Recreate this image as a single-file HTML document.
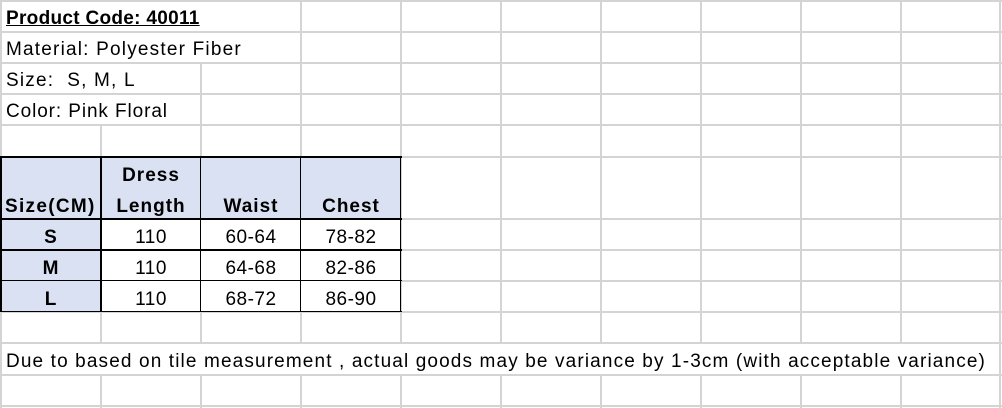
<!DOCTYPE html>
<html><head><meta charset="utf-8"><style>
body{margin:0;width:1002px;height:408px;background:#fff;position:relative;overflow:hidden;font-family:"Liberation Sans",sans-serif;color:#000}
.h,.v{position:absolute;background:#d4d4d4}
.h{height:2px}.v{width:2px}
.b{position:absolute;background:#000}
.f{position:absolute;background:#d9e1f2}
.t{position:absolute;font-size:19px;white-space:nowrap;line-height:20px;letter-spacing:1.2px}
.c{position:absolute;font-size:19px;text-align:center;line-height:20px;width:100px;letter-spacing:0.5px}
.bold{font-weight:bold;letter-spacing:1px}
</style></head><body>
<div class="f" style="left:1px;top:157px;width:400px;height:62px"></div>
<div class="f" style="left:1px;top:219px;width:100px;height:93px"></div>
<div class="h" style="left:0;top:0;width:1002px"></div>
<div class="h" style="left:0;top:31px;width:1002px"></div>
<div class="h" style="left:0;top:62px;width:1002px"></div>
<div class="h" style="left:0;top:93px;width:1002px"></div>
<div class="h" style="left:0;top:124px;width:1002px"></div>
<div class="h" style="left:0;top:156px;width:1002px"></div>
<div class="h" style="left:401px;top:218px;width:601px"></div>
<div class="h" style="left:401px;top:249px;width:601px"></div>
<div class="h" style="left:401px;top:280px;width:601px"></div>
<div class="h" style="left:0;top:311px;width:1002px"></div>
<div class="h" style="left:0;top:342px;width:1002px"></div>
<div class="h" style="left:0;top:374px;width:1002px"></div>
<div class="h" style="left:0;top:405px;width:1002px"></div>
<div class="v" style="left:0;top:0;height:408px"></div>
<div class="v" style="left:999px;top:0;height:408px"></div>
<div class="v" style="left:100px;top:125px;height:32px"></div>
<div class="v" style="left:100px;top:312px;height:31px"></div>
<div class="v" style="left:100px;top:375px;height:33px"></div>
<div class="v" style="left:200px;top:63px;height:94px"></div>
<div class="v" style="left:200px;top:312px;height:31px"></div>
<div class="v" style="left:200px;top:375px;height:33px"></div>
<div class="v" style="left:300px;top:0;height:157px"></div>
<div class="v" style="left:300px;top:312px;height:31px"></div>
<div class="v" style="left:300px;top:375px;height:33px"></div>
<div class="v" style="left:400px;top:0;height:343px"></div>
<div class="v" style="left:400px;top:375px;height:33px"></div>
<div class="v" style="left:500px;top:0;height:343px"></div>
<div class="v" style="left:500px;top:375px;height:33px"></div>
<div class="v" style="left:600px;top:0;height:343px"></div>
<div class="v" style="left:600px;top:375px;height:33px"></div>
<div class="v" style="left:700px;top:0;height:343px"></div>
<div class="v" style="left:700px;top:375px;height:33px"></div>
<div class="v" style="left:800px;top:0;height:343px"></div>
<div class="v" style="left:800px;top:375px;height:33px"></div>
<div class="v" style="left:900px;top:0;height:343px"></div>
<div class="v" style="left:900px;top:375px;height:33px"></div>
<div class="b" style="left:0;top:156px;width:402px;height:2px"></div>
<div class="b" style="left:0;top:218px;width:402px;height:2px"></div>
<div class="b" style="left:0;top:249px;width:402px;height:2px"></div>
<div class="b" style="left:0;top:280px;width:402px;height:1px"></div>
<div class="b" style="left:0;top:311px;width:402px;height:1px"></div>
<div class="b" style="left:0;top:156px;width:2px;height:156px"></div>
<div class="b" style="left:100px;top:156px;width:2px;height:156px"></div>
<div class="b" style="left:200px;top:156px;width:1px;height:156px"></div>
<div class="b" style="left:300px;top:156px;width:1px;height:156px"></div>
<div class="b" style="left:400px;top:156px;width:1px;height:156px"></div>
<div class="t bold" style="left:6px;top:9px;text-decoration:underline;letter-spacing:0.3px">Product Code: 40011</div>
<div class="t" style="left:6px;top:40px">Material: Polyester Fiber</div>
<div class="t" style="left:6px;top:71px">Size:&nbsp; S, M, L</div>
<div class="t" style="left:6px;top:102px;letter-spacing:0.9px">Color: Pink Floral</div>
<div class="c bold" style="left:101px;top:166px">Dress</div>
<div class="t bold" style="left:5px;top:197px;letter-spacing:1.3px">Size(CM)</div>
<div class="c bold" style="left:101px;top:197px">Length</div>
<div class="c bold" style="left:201px;top:197px">Waist</div>
<div class="c bold" style="left:301px;top:197px">Chest</div>
<div class="c bold" style="left:1px;top:228px">S</div>
<div class="c" style="left:101px;top:228px">110</div>
<div class="c" style="left:201px;top:228px">60-64</div>
<div class="c" style="left:301px;top:228px">78-82</div>
<div class="c bold" style="left:1px;top:259px">M</div>
<div class="c" style="left:101px;top:259px">110</div>
<div class="c" style="left:201px;top:259px">64-68</div>
<div class="c" style="left:301px;top:259px">82-86</div>
<div class="c bold" style="left:1px;top:290px">L</div>
<div class="c" style="left:101px;top:290px">110</div>
<div class="c" style="left:201px;top:290px">68-72</div>
<div class="c" style="left:301px;top:290px">86-90</div>
<div class="t" style="left:6px;top:352px;letter-spacing:1.13px">Due to based on tile measurement , actual goods may be variance by 1-3cm (with acceptable variance)</div>
</body></html>
